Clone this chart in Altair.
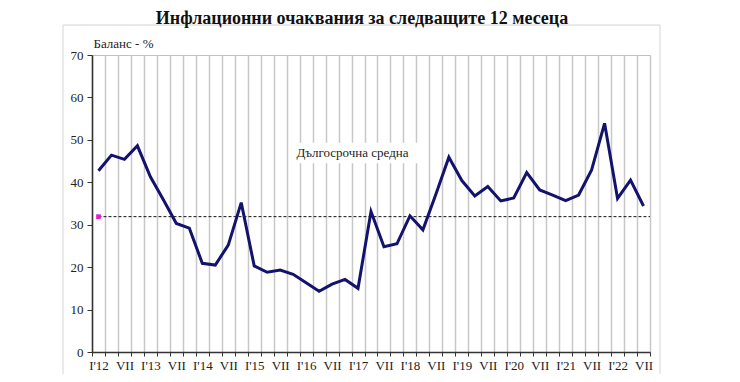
import json
import altair as alt
import pandas as pd

# ---- data -------------------------------------------------------------
quarters = list(range(43))  # I'12 ... VII'22 (quarterly)
values = [42.7, 46.4, 45.4, 48.6, 41.3, 35.9, 30.3, 29.2, 20.9, 20.5,
          25.2, 35.2, 20.3, 18.8, 19.3, 18.3, 16.3, 14.3, 16.0, 17.1,
          15.0, 33.1, 24.8, 25.5, 32.1, 28.8, 37.2, 45.9, 40.4, 36.8,
          39.0, 35.6, 36.3, 42.3, 38.2, 37.0, 35.7, 37.0, 42.9, 53.9,
          36.2, 40.5, 34.4]
x_labels = ["I'12", "VII", "I'13", "VII", "I'14", "VII", "I'15", "VII",
            "I'16", "VII", "I'17", "VII", "I'18", "VII", "I'19", "VII",
            "I'20", "VII", "I'21", "VII", "I'22", "VII"]
y_ticks = [0, 10, 20, 30, 40, 50, 60, 70]
long_term_avg = 31.9
avg_label = "Дългосрочна средна"
chart_title = "Инфлационни очаквания за следващите 12 месеца"
y_title = "Баланс - %"

# annotation placement (data units)
ann_x, ann_y = 19.57, 46.8
box_x, box_x2, box_y, box_y2 = 14.7, 24.8, 44.5, 49.3

FONT = "'Times New Roman', 'Liberation Serif', serif"

df = pd.DataFrame({"q": quarters, "v": values})
avg_df = pd.DataFrame({"q": [0], "q2": [42.5], "v": [long_term_avg]})
mark_df = pd.DataFrame({"q": [0], "v": [long_term_avg]})
ann_df = pd.DataFrame({"q": [ann_x], "v": [ann_y], "t": [avg_label]})
box_df = pd.DataFrame({"q": [box_x], "q2": [box_x2], "v": [box_y], "v2": [box_y2]})

n = len(quarters)
tick_values = sorted(set([i - 0.5 for i in range(n + 1)] + list(range(0, n, 2))))
label_expr = f"datum.value % 2 == 0 ? {json.dumps(x_labels)}[datum.value / 2] : ''"

x_scale = alt.Scale(domain=[-0.5, n - 0.5], nice=False, zero=False)
y_scale = alt.Scale(domain=[0, 70], nice=False)

is_boundary = "datum.value % 1 != 0"
x_axis = alt.Axis(
    values=tick_values, labelExpr=label_expr, title=None,
    grid=True, gridColor="#c8c8c8", gridWidth=1.5,
    gridOpacity={"condition": {"test": is_boundary, "value": 1}, "value": 0},
    ticks=True, tickSize=4, tickColor="#333333",
    tickOpacity={"condition": {"test": is_boundary, "value": 1}, "value": 0},
    domainColor="#333333", domainWidth=1.5,
    labelFont=FONT, labelFontSize=13, labelColor="#222222", labelPadding=3,
    labelOverlap=False, labelFlush=False, labelBound=False,
)
y_axis = alt.Axis(
    values=y_ticks, grid=False, title=y_title, titleAngle=0,
    titleAlign="left", titleBaseline="alphabetic", titleX=1, titleY=-8,
    titleFont=FONT, titleFontSize=13, titleFontWeight="normal", titleColor="#222222",
    tickSize=5, tickColor="#333333", domainColor="#333333", domainWidth=1.5,
    labelFont=FONT, labelFontSize=13, labelColor="#222222", labelPadding=4,
)

X = lambda f="q": alt.X(f"{f}:Q", scale=x_scale, axis=x_axis)
Y = lambda f="v": alt.Y(f"{f}:Q", scale=y_scale, axis=y_axis)

frame = alt.Chart(mark_df).mark_rect(fill=None, stroke="#d4d4d4", strokeWidth=1).encode(
    x=alt.value(-29), x2=alt.value(568), y=alt.value(-30), y2=alt.value(340)
)

box = alt.Chart(box_df).mark_rect(fill="white", stroke=None).encode(
    x=X(), x2="q2:Q", y=Y(), y2="v2:Q"
)

ann = alt.Chart(ann_df).mark_text(font=FONT, fontSize=13, color="#222222",
                                  align="center", baseline="middle").encode(
    x=X(), y=Y(), text="t:N"
)

avg = alt.Chart(avg_df).mark_rule(color="#111111", strokeWidth=1, strokeDash=[3, 2]).encode(
    x=X(), x2="q2:Q", y=Y()
)

line = alt.Chart(df).mark_line(color="#13136e", strokeWidth=3, strokeJoin="miter").encode(
    x=X(), y=Y()
)

marker = alt.Chart(mark_df).mark_point(shape="square", filled=True, color="#e020d8",
                                       size=22, opacity=1).encode(
    x=X(), y=Y()
)

chart = alt.layer(frame, box, ann, avg, line, marker).properties(
    width=558, height=297,
    padding={"left": 84, "top": 47, "right": 74, "bottom": 22},
    autosize=alt.AutoSizeParams(type="none"),
    title=alt.TitleParams(
        text=chart_title, font=FONT, fontSize=18, fontWeight="bold", color="#111111",
        anchor="middle", frame="group", baseline="alphabetic", offset=-17, dx=-9,
    ),
).configure_view(stroke="#c0c0c0", strokeWidth=1)

chart.save("out.html", embed_options={"renderer": "svg", "actions": False})
